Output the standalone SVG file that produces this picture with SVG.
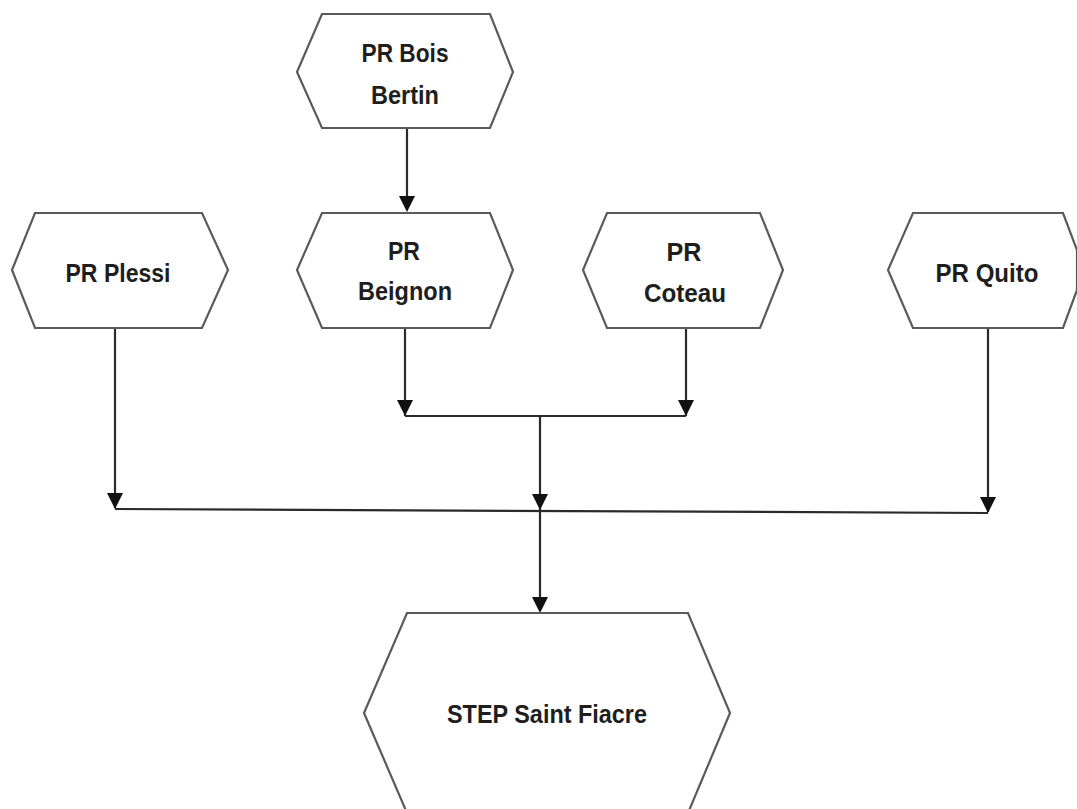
<svg xmlns="http://www.w3.org/2000/svg" width="1077" height="809" viewBox="0 0 1077 809">
<defs>
<style>
.hex{fill:#ffffff;stroke:#5a5a5a;stroke-width:2.2;stroke-linejoin:miter}
.lbl{font-family:"Liberation Sans",Arial,sans-serif;font-weight:bold;font-size:26px;fill:#1e1e1e;text-anchor:middle}
.con{fill:none;stroke:#2a2a2a;stroke-width:2.2}
.head{fill:#111}
</style>
</defs>
<rect width="1077" height="809" fill="#ffffff"/>
<g id="connectors">
<line class="con" x1="407" y1="128" x2="407" y2="205"/>
<path class="head" d="M399,196 L415,196 L407,212 Z"/>
<line class="con" x1="405" y1="328" x2="405" y2="416"/>
<path class="head" d="M397,400 L413,400 L405,416 Z"/>
<line class="con" x1="686" y1="328" x2="686" y2="416"/>
<path class="head" d="M678,400 L694,400 L686,416 Z"/>
<line class="con" x1="405" y1="416" x2="686" y2="416"/>
<line class="con" x1="540" y1="416" x2="540" y2="606"/>
<path class="head" d="M532,494 L548,494 L540,510 Z"/>
<path class="head" d="M532,597 L548,597 L540,613 Z"/>
<line class="con" x1="115" y1="328" x2="115" y2="508"/>
<path class="head" d="M107,493 L123,493 L115,509 Z"/>
<line class="con" x1="988" y1="328" x2="988" y2="512"/>
<path class="head" d="M980,497 L996,497 L988,513 Z"/>
<line class="con" x1="115" y1="509" x2="988" y2="513"/>
</g>
<g id="node-bois-bertin">
<polygon class="hex" points="322,14 490,14 513,72 490,128 322,128 297,72"/>
<text class="lbl" x="405" y="62" textLength="87" lengthAdjust="spacingAndGlyphs">PR Bois</text>
<text class="lbl" x="405" y="104" textLength="68" lengthAdjust="spacingAndGlyphs">Bertin</text>
</g>
<g id="node-plessi">
<polygon class="hex" points="35,213 202,213 228,270 202,328 35,328 12,270"/>
<text class="lbl" x="118" y="282" textLength="105" lengthAdjust="spacingAndGlyphs">PR Plessi</text>
</g>
<g id="node-beignon">
<polygon class="hex" points="322,213 490,213 513,270 490,328 322,328 297,270"/>
<text class="lbl" x="404" y="260" textLength="32" lengthAdjust="spacingAndGlyphs">PR</text>
<text class="lbl" x="405" y="300" textLength="94" lengthAdjust="spacingAndGlyphs">Beignon</text>
</g>
<g id="node-coteau">
<polygon class="hex" points="607,213 760,213 783,270 760,328 607,328 583,270"/>
<text class="lbl" x="684" y="261" textLength="35" lengthAdjust="spacingAndGlyphs">PR</text>
<text class="lbl" x="685" y="302" textLength="82" lengthAdjust="spacingAndGlyphs">Coteau</text>
</g>
<g id="node-quito">
<polygon class="hex" points="913,213 1063,213 1077,250 1077,290 1063,328 913,328 888,270"/>
<text class="lbl" x="987" y="282" textLength="103" lengthAdjust="spacingAndGlyphs">PR Quito</text>
</g>
<g id="node-step">
<polygon class="hex" points="407,613 688,613 730,713 688,813 407,813 364,713"/>
<text class="lbl" x="547" y="723" textLength="200" lengthAdjust="spacingAndGlyphs">STEP Saint Fiacre</text>
</g>
</svg>
